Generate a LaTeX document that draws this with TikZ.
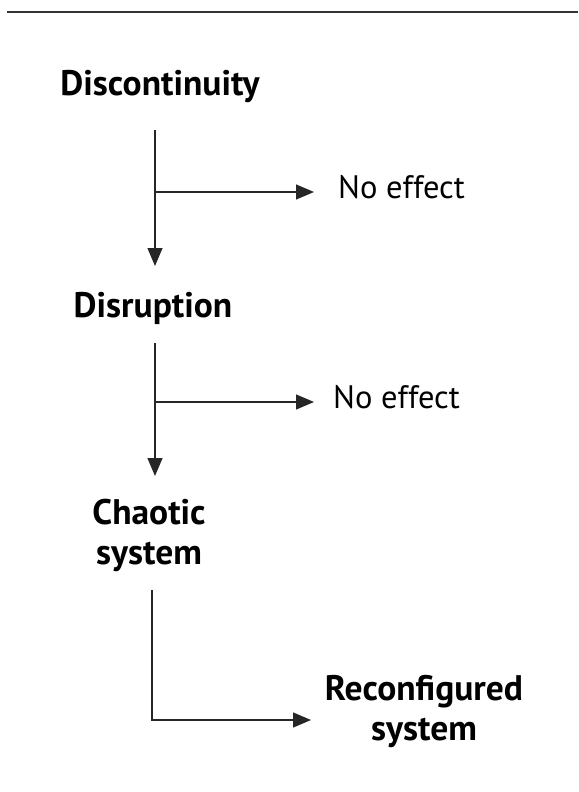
\documentclass[tikz,border=0pt]{standalone}
\usepackage{fontspec}
\setmainfont{PT Sans}
\usetikzlibrary{arrows.meta}
\begin{document}
\begin{tikzpicture}[x=1pt,y=-1pt,
  lbl/.style={font=\fontsize{35.5}{40}\selectfont\bfseries, align=center, inner sep=0pt, anchor=base},
  eff/.style={font=\fontsize{32.5}{38}\selectfont, inner sep=0pt, anchor=base west},
  conn/.style={line width=1.2pt, black!85},
  arr/.style={conn, -{Triangle[length=18pt,width=15pt]}}]
\useasboundingbox (0,0) rectangle (578,792);
\draw[line width=1.5pt, black!80] (7,12) -- (578,12);
\node[lbl] (disc) at (160,95) {Discontinuity};
\node[eff] (ne1) at (338,198) {No effect};
\node[lbl] (disr) at (153,317) {Disruption};
\node[eff] (ne2) at (333,408) {No effect};
\node[lbl] (chaos) at (149,564) {Chaotic\\system};
\node[lbl] (reconf) at (424,740) {Reconfigured\\system};
\coordinate (s1) at (155,130);
\coordinate (j1) at (155,192);
\coordinate (e1) at (155,266);
\coordinate (h1) at (314,192);
\coordinate (s2) at (155,343);
\coordinate (j2) at (155,402);
\coordinate (e2) at (155,476);
\coordinate (h2) at (314,402);
\coordinate (s3) at (152,590);
\coordinate (c3) at (152,720);
\coordinate (h3) at (311,720);
\draw[arr] (s1) -- (e1);
\draw[arr] (j1) -- (h1);
\draw[arr] (s2) -- (e2);
\draw[arr] (j2) -- (h2);
\draw[arr] (s3) -- (c3) -- (h3);
\end{tikzpicture}
\end{document}
